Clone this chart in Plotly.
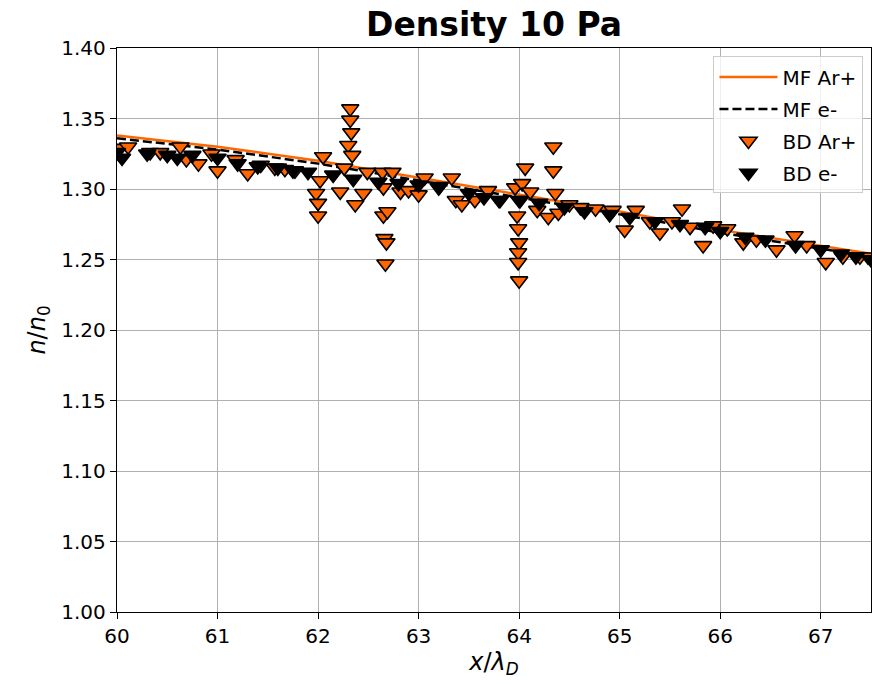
import plotly.graph_objects as go

# Mean-field profiles
mf_x = [60.0, 61.0, 62.0, 63.0, 64.0, 65.0, 66.0, 67.0, 67.5]
mf_ar = [1.338, 1.330, 1.320, 1.308, 1.296, 1.284, 1.271, 1.260, 1.254]
mf_e = [1.336, 1.328, 1.318, 1.306, 1.294, 1.282, 1.269, 1.258, 1.252]

# BD Ar+ samples
bd_ar_x = [60.01, 60.11, 60.33, 60.43, 60.63, 60.69, 60.81, 60.94, 61.0, 61.18,
           61.30, 61.43, 61.57, 61.67, 61.77, 61.98, 62.0, 62.0, 62.05, 62.02,
           62.22, 62.32, 62.32, 62.33, 62.30, 62.34, 62.26, 62.37, 62.45, 62.49,
           62.64, 62.65, 62.65, 62.69, 62.66, 62.68, 62.67, 62.74, 62.82, 62.90,
           63.0, 63.06, 63.21, 63.33, 63.37, 63.43, 63.56, 63.69, 63.81, 63.96,
           64.01, 63.98, 63.99, 64.0, 63.99, 63.99, 64.0, 64.06, 64.03, 64.11,
           64.18, 64.29, 64.34, 64.34, 64.36, 64.39, 64.50, 64.61, 64.76, 64.93,
           65.05, 65.16, 65.30, 65.40, 65.52, 65.62, 65.70, 65.83, 65.93, 66.07,
           66.23, 66.36, 66.56, 66.74, 66.86, 67.05, 67.22, 67.39, 67.47]
bd_ar_y = [1.329, 1.330, 1.326, 1.326, 1.330, 1.321, 1.318, 1.325, 1.313, 1.321,
           1.311, 1.317, 1.315, 1.314, 1.313, 1.297, 1.290, 1.281, 1.323, 1.306,
           1.298, 1.357, 1.349, 1.340, 1.331, 1.324, 1.315, 1.289, 1.297, 1.312,
           1.312, 1.301, 1.281, 1.284, 1.265, 1.262, 1.247, 1.312, 1.298, 1.299,
           1.296, 1.308, 1.302, 1.308, 1.292, 1.289, 1.292, 1.299, 1.292, 1.301,
           1.292, 1.281, 1.272, 1.262, 1.255, 1.248, 1.235, 1.315, 1.304, 1.298,
           1.285, 1.280, 1.330, 1.313, 1.297, 1.283, 1.289, 1.287, 1.286, 1.285,
           1.271, 1.285, 1.277, 1.269, 1.277, 1.286, 1.273, 1.260, 1.274, 1.272,
           1.262, 1.264, 1.257, 1.267, 1.260, 1.248, 1.252, 1.252, 1.252]

# BD e- samples
bd_e_x = [60.0, 60.05, 60.3, 60.5, 60.6, 60.75, 61.0, 61.2, 61.4, 61.6, 61.75,
          61.9, 62.15, 62.35, 62.6, 62.8, 63.0, 63.2, 63.5, 63.65, 63.8, 64.0,
          64.2, 64.45, 64.65, 64.9, 65.1, 65.35, 65.6, 65.85, 66.0, 66.25, 66.45,
          66.75, 67.0, 67.2, 67.35, 67.5]
bd_e_y = [1.326, 1.322, 1.325, 1.324, 1.322, 1.324, 1.322, 1.318, 1.316, 1.315,
          1.313, 1.312, 1.310, 1.307, 1.305, 1.304, 1.303, 1.301, 1.297, 1.294,
          1.292, 1.292, 1.290, 1.287, 1.284, 1.282, 1.280, 1.277, 1.275, 1.273,
          1.270, 1.266, 1.264, 1.260, 1.257, 1.254, 1.252, 1.250]

x_ticks = [60, 61, 62, 63, 64, 65, 66, 67]
y_ticks = [1.00, 1.05, 1.10, 1.15, 1.20, 1.25, 1.30, 1.35, 1.40]

ORANGE = "#ff6600"

fig = go.Figure()
fig.add_trace(go.Scatter(x=mf_x, y=mf_ar, mode="lines", name="MF Ar+", legendgroup="a",
                         line=dict(color=ORANGE, width=2.5)))
fig.add_trace(go.Scatter(x=mf_x, y=mf_e, mode="lines", name="MF e-", legendgroup="b",
                         line=dict(color="black", width=2.5, dash="9px,4px")))
fig.add_trace(go.Scatter(x=bd_ar_x, y=bd_ar_y, mode="markers", name="BD Ar+", legendgroup="c",
                         marker=dict(symbol="triangle-down", size=15, color=ORANGE,
                                     line=dict(color="black", width=1.6))))
fig.add_trace(go.Scatter(x=bd_e_x, y=bd_e_y, mode="markers", name="BD e-", legendgroup="d",
                         marker=dict(symbol="triangle-down", size=15, color="black",
                                     line=dict(color="black", width=1.6))))

axis_common = dict(showline=True, linecolor="black", linewidth=1.4, mirror=True,
                   ticks="outside", ticklen=6, tickcolor="black", tickwidth=1.2,
                   showgrid=True, gridcolor="#b0b0b0", gridwidth=1.2, zeroline=False,
                   tickfont=dict(family="DejaVu Sans", size=20, color="black"))

fig.update_layout(
    width=872, height=683,
    margin=dict(l=117, r=1, t=48, b=71),
    paper_bgcolor="white", plot_bgcolor="white",
    font=dict(family="DejaVu Sans", color="black"),
    title=dict(text="<b>Density 10 Pa</b>", x=494 / 872,
               xanchor="center", y=1 - 24 / 683, yanchor="middle",
               font=dict(family="DejaVu Sans", size=33, color="black")),
    xaxis=dict(range=[60, 67.5], tickvals=x_ticks, ticktext=[str(v) for v in x_ticks],
               title=dict(text="<i>x</i>/<i>λ</i><sub><i>D</i></sub>",
                          font=dict(family="DejaVu Sans", size=24), standoff=2),
               **axis_common),
    yaxis=dict(range=[1.0, 1.4], tickvals=y_ticks, ticktext=[f"{v:.2f}" for v in y_ticks],
               title=dict(text="<i>n</i>/<i>n</i><sub>0</sub>",
                          font=dict(family="DejaVu Sans", size=24), standoff=8),
               **axis_common),
    legend=dict(x=0.99, y=0.985, xanchor="right", yanchor="top",
                bgcolor="rgba(255,255,255,0.8)", bordercolor="#cccccc", borderwidth=1,
                font=dict(family="DejaVu Sans", size=20, color="black"),
                itemwidth=58, traceorder="grouped", tracegroupgap=3),
    showlegend=True,
)

fig.write_html("out.html")
